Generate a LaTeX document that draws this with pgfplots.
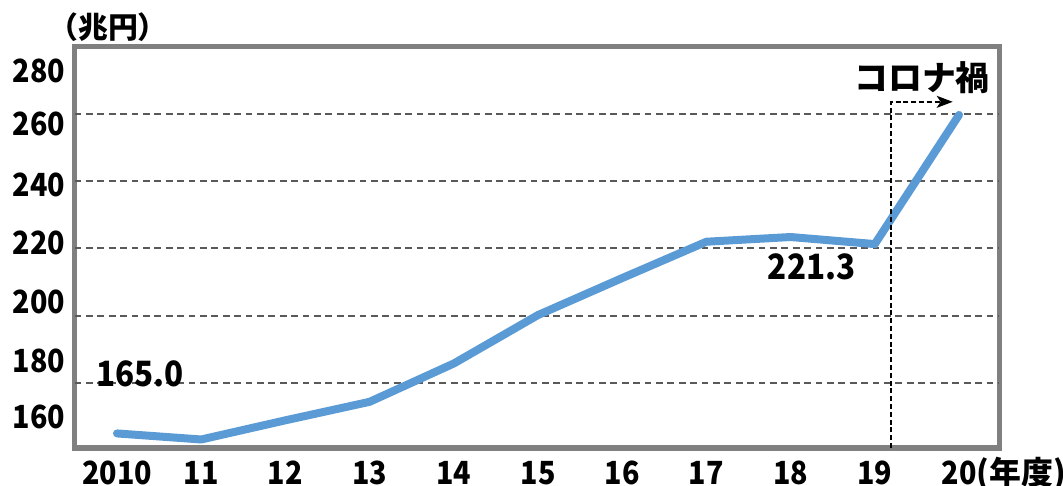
\documentclass[border=0pt]{standalone}
\usepackage{fontspec}
\setmainfont{Noto Sans CJK JP}
\newfontfamily\numfont{Noto Sans CJK JP}[FakeStretch=0.9]
\usepackage{pgfplots}
\pgfplotsset{compat=1.18}
\usetikzlibrary{arrows.meta}
\definecolor{linecol}{HTML}{5B9BD5}
\definecolor{framecol}{HTML}{808080}
\definecolor{gridcol}{HTML}{595959}

\begin{document}
\begin{tikzpicture}
\begin{axis}[
  scale only axis,
  width=462.25bp, height=200.5bp,
  xmin=-0.505, xmax=10.475,
  ymin=160.67, ymax=279.9,
  axis line style={framecol, line width=2.5bp},
  xtick={0,...,10},
  xticklabels={2010,11,12,13,14,15,16,17,18,19,{20\rlap{\rmfamily(年度)}}},
  ytick={272.85,257.03,238.88,221.55,204.18,186.60,169.98},
  yticklabels={280,260,240,220,200,180,160},
  extra y ticks={180,200,220,240,260},
  extra y tick labels={},
  extra y tick style={grid=major, major grid style={gridcol, line width=1bp, dash pattern=on 3.4bp off 2.3bp}},
  major tick length=0pt,
  tick style={draw=none},
  ticklabel style={font=\numfont\bfseries\fontsize{16}{19}\selectfont, inner sep=0pt},
  yticklabel style={anchor=east, xshift=-4.5bp},
  xticklabel style={anchor=base, yshift=-18bp},
  clip=false,
  /pgf/number format/assume math mode=true,
]
\coordinate (sw) at (rel axis cs:0,0);

% annual totals
\addplot[linecol, line width=4bp, line join=round, line cap=round]
  coordinates {(0,165.0)(1,163.2)(2,168.9)(3,174.4)(4,185.8)(5,200.2)
               (6,211.2)(7,222.0)(8,223.4)(9,221.3)(10,259.7)};

\node[font=\numfont\bfseries\fontsize{17.5}{20}\selectfont, xshift=11.5bp, yshift=29.95bp]
  at (axis cs:0,165.0) {165.0};
\node[font=\numfont\bfseries\fontsize{17.5}{20}\selectfont, xshift=-31.55bp, yshift=-11.3bp]
  at (axis cs:9,221.3) {221.3};

% pandemic marker
\draw[black, line width=0.85bp, dash pattern=on 2.5bp off 1.4bp,
      -{Stealth[length=8bp, width=6bp, inset=2bp]}]
  (axis cs:9.189,160.67) -- (axis cs:9.189,263.6) -- (axis cs:9.925,263.6);
\node[font=\bfseries\fontsize{17}{20}\selectfont] at (axis cs:9.561,270.85) {コロナ禍};

% unit label
\node[font=\bfseries\fontsize{15}{18}\selectfont] at (axis cs:-0.107,285.7) {（兆円）};
\end{axis}
\pgfresetboundingbox
\path[use as bounding box] (sw) ++(-37.25bp,-19bp) rectangle ++(531.5bp,243bp);
\end{tikzpicture}
\end{document}
